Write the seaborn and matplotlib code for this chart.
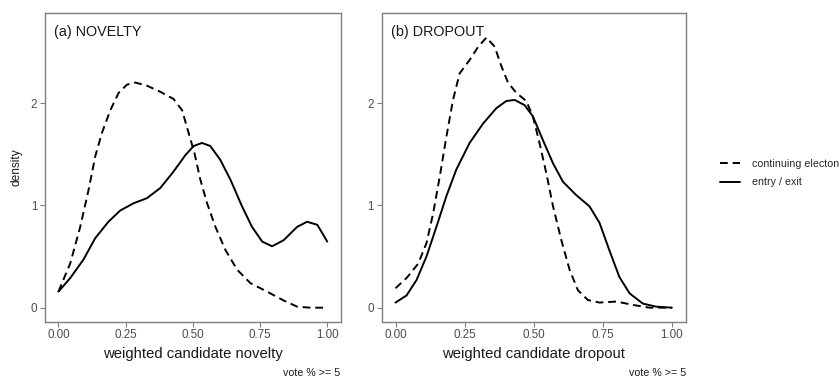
import matplotlib
matplotlib.use("Agg")
import matplotlib.pyplot as plt
import seaborn as sns
import pandas as pd

# ---- data ----
nov_cont_x = [0.00, 0.044, 0.081, 0.112, 0.137, 0.162, 0.193, 0.224, 0.255, 0.286, 0.329, 0.379, 0.428, 0.46, 0.484,
              0.506, 0.528, 0.553, 0.584, 0.621, 0.665, 0.714, 0.776, 0.838, 0.888, 0.937, 1.00]
nov_cont_y = [0.157, 0.434, 0.79, 1.15, 1.48, 1.71, 1.93, 2.10, 2.18, 2.20, 2.17, 2.11, 2.04, 1.93, 1.71,
              1.51, 1.25, 1.02, 0.79, 0.565, 0.37, 0.24, 0.157, 0.07, 0.01, 0.00, 0.00]
nov_entry_x = [0.00, 0.044, 0.093, 0.137, 0.186, 0.23, 0.279, 0.329, 0.379, 0.428, 0.472, 0.503, 0.534, 0.565,
               0.602, 0.64, 0.683, 0.72, 0.758, 0.795, 0.838, 0.888, 0.925, 0.963, 1.00]
nov_entry_y = [0.157, 0.29, 0.47, 0.68, 0.84, 0.95, 1.02, 1.07, 1.17, 1.33, 1.49, 1.58, 1.61, 1.58,
               1.445, 1.25, 0.99, 0.79, 0.646, 0.60, 0.66, 0.79, 0.84, 0.81, 0.646]

drop_cont_x = [0.00, 0.04, 0.082, 0.112, 0.136, 0.16, 0.184, 0.208, 0.232, 0.268, 0.299, 0.329, 0.359, 0.383,
               0.407, 0.437, 0.473, 0.497, 0.521, 0.546, 0.57, 0.60, 0.63, 0.66, 0.696, 0.738, 0.80, 0.859,
               0.919, 1.00]
drop_cont_y = [0.19, 0.29, 0.43, 0.63, 0.92, 1.28, 1.67, 2.03, 2.29, 2.42, 2.55, 2.64, 2.55, 2.36,
               2.20, 2.10, 2.02, 1.87, 1.61, 1.31, 0.99, 0.66, 0.37, 0.17, 0.075, 0.05, 0.06, 0.027,
               0.00, 0.00]
drop_entry_x = [0.00, 0.04, 0.076, 0.112, 0.148, 0.184, 0.22, 0.268, 0.317, 0.365, 0.401, 0.431, 0.467, 0.497,
                0.533, 0.57, 0.606, 0.654, 0.702, 0.738, 0.774, 0.81, 0.847, 0.895, 0.943, 1.00]
drop_entry_y = [0.05, 0.12, 0.27, 0.50, 0.79, 1.09, 1.35, 1.61, 1.80, 1.95, 2.02, 2.03, 1.98, 1.87,
                1.64, 1.41, 1.23, 1.10, 0.99, 0.83, 0.56, 0.30, 0.14, 0.04, 0.01, 0.00]

groups = ["continuing electon", "entry / exit"]
panel_titles = ["(a) NOVELTY", "(b) DROPOUT"]
x_labels = ["weighted candidate novelty", "weighted candidate dropout"]
x_ticks = [0.0, 0.25, 0.5, 0.75, 1.0]
x_ticklabels = ["0.00", "0.25", "0.50", "0.75", "1.00"]
y_ticks = [0, 1, 2]
caption = "vote % >= 5"


def make_df(cx, cy, ex, ey):
    return pd.concat([
        pd.DataFrame({"x": cx, "y": cy, "group": groups[0]}),
        pd.DataFrame({"x": ex, "y": ey, "group": groups[1]}),
    ], ignore_index=True)


df_nov = make_df(nov_cont_x, nov_cont_y, nov_entry_x, nov_entry_y)
df_drop = make_df(drop_cont_x, drop_cont_y, drop_entry_x, drop_entry_y)

sns.set_theme(style="white")
plt.rcParams["font.family"] = ["Liberation Sans", "DejaVu Sans"]

W, H = 839, 378
fig = plt.figure(figsize=(W / 100, H / 100), dpi=100)
ax1 = fig.add_axes([45 / W, 1 - 321.7 / H, 295.7 / W, 308.7 / H])
ax2 = fig.add_axes([381.7 / W, 1 - 321.7 / H, 304 / W, 308.7 / H])

dash_map = {groups[0]: (4, 2.5), groups[1]: ""}
grey = "#4d4d4d"

for i, (ax, df) in enumerate([(ax1, df_nov), (ax2, df_drop)]):
    sns.lineplot(data=df, x="x", y="y", style="group", dashes=dash_map,
                 color="black", linewidth=1.4, sort=False, estimator=None,
                 ax=ax, legend=(i == 1))
    for ln in ax.get_lines():
        ln.set_solid_joinstyle("round")
        ln.set_dash_joinstyle("round")
    ax.set_xlim(-0.05, 1.05)
    ax.set_ylim(-0.137, 2.88)
    ax.set_xticks(x_ticks)
    ax.set_xticklabels(x_ticklabels)
    ax.set_yticks(y_ticks)
    ax.tick_params(axis="both", which="both", length=3.5, width=0.8, color="#7f7f7f",
                   labelcolor=grey, labelsize=8.4, pad=2, left=True, bottom=True)
    for s in ax.spines.values():
        s.set_color("#7f7f7f")
        s.set_linewidth(1.0)
    ax.set_xlabel(x_labels[i], fontsize=10.7, color="#1a1a1a", labelpad=4)
    ax.set_ylabel("")
    ax.text(0.03, 0.96, panel_titles[i], transform=ax.transAxes, fontsize=10.4,
            ha="left", va="top", color="#1a1a1a")

ax1.set_ylabel("density", fontsize=8.6, color="#1a1a1a", labelpad=6)

handles, labels = ax2.get_legend_handles_labels()
ax2.legend_.remove()
fig.legend(handles, labels, loc="center left", bbox_to_anchor=(710 / W, 1 - 173 / H),
           frameon=False, fontsize=7.7, handlelength=1.9, handletextpad=1.1,
           labelspacing=0.8)

fig.text(340 / W, 1 - 373 / H, caption, ha="right", va="center", fontsize=7.7, color="#1a1a1a")
fig.text(685.7 / W, 1 - 373 / H, caption, ha="right", va="center", fontsize=7.7, color="#1a1a1a")

fig.savefig("out.png", dpi=100)
